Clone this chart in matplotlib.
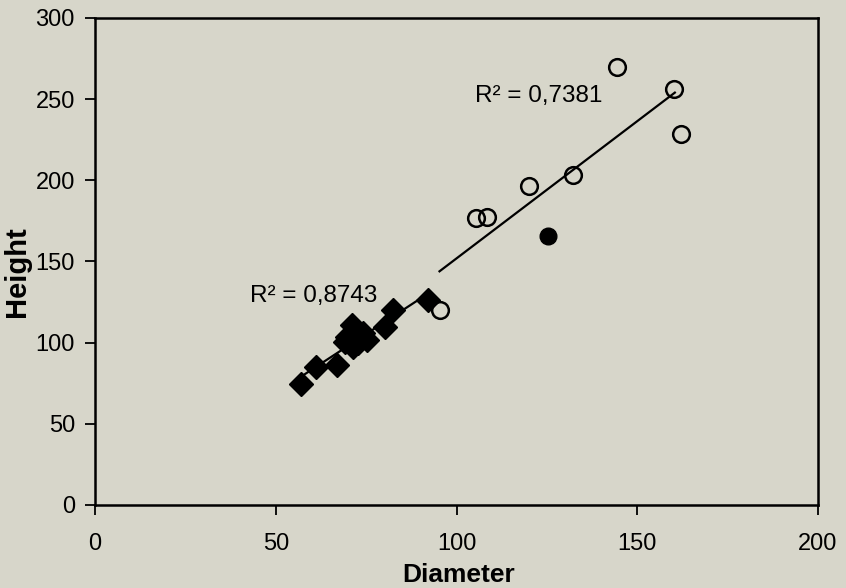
import numpy as np
import matplotlib.pyplot as plt

# diamonds (filled) - first group
dia_x = [57, 61, 67, 69.2, 69.6, 71.0, 71.5, 72.8, 74.2, 75.2, 80.2, 82.3, 92.0]
dia_y = [74.5, 85, 86.5, 100.6, 103.7, 110.9, 97.5, 99.6, 105.8, 101.7, 109.9, 120.1, 126.3]

# open circles - second group
circ_x = [95.3, 105.4, 108.3, 120.1, 132.1, 144.3, 160.2, 162.0]
circ_y = [120.1, 176.6, 177.6, 196.8, 203.3, 269.7, 256.1, 228.6]

# filled circle (part of second group fit)
fill_x = [125.2]
fill_y = [165.9]

r2_text_1 = 'R² = 0,8743'
r2_text_2 = 'R² = 0,7381'

bg = '#d7d6ca'
plt.rcParams['font.family'] = ['Liberation Sans', 'DejaVu Sans']

fig = plt.figure(figsize=(8.46, 5.88), dpi=100, facecolor=bg)
ax = fig.add_axes([0.1123, 0.1412, 0.8546, 0.8282])
ax.set_facecolor(bg)

# trend lines
p1 = np.polyfit(dia_x, dia_y, 1)
xl1 = np.array([min(dia_x), max(dia_x)])
ax.plot(xl1, np.polyval(p1, xl1), color='black', lw=1.6, zorder=2)

g2x = circ_x + fill_x
g2y = circ_y + fill_y
p2 = np.polyfit(g2x, g2y, 1)
xl2 = np.array([min(g2x), 160.4])
ax.plot(xl2, np.polyval(p2, xl2), color='black', lw=1.6, zorder=2)

ax.plot(dia_x, dia_y, 'D', color='black', markersize=12, zorder=3)
ax.plot(circ_x, circ_y, 'o', markerfacecolor='none', markeredgecolor='black',
        markeredgewidth=1.8, markersize=12, zorder=3)
ax.plot(fill_x, fill_y, 'o', color='black', markersize=12, zorder=3)

ax.text(42.9, 125, r2_text_1, fontsize=17.5)
ax.text(105.1, 248, r2_text_2, fontsize=17.5)

ax.set_xlim(0, 200)
ax.set_ylim(0, 300)
ax.set_xticks([0, 50, 100, 150, 200])
ax.set_yticks([0, 50, 100, 150, 200, 250, 300])
ax.tick_params(direction='out', length=7, width=1.3, labelsize=17)
ax.tick_params(axis='x', pad=13)
ax.tick_params(axis='y', pad=7.5)
for s in ax.spines.values():
    s.set_linewidth(1.8)
    s.set_color('black')

ax.set_xlabel('Diameter', fontsize=19, fontweight='bold')
ax.xaxis.set_label_coords(0.503, -0.119)
ax.set_ylabel('Height', fontsize=21, fontweight='bold')
ax.yaxis.set_label_coords(-0.088, 0.48)

fig.savefig('out.png', dpi=100, facecolor=bg)
